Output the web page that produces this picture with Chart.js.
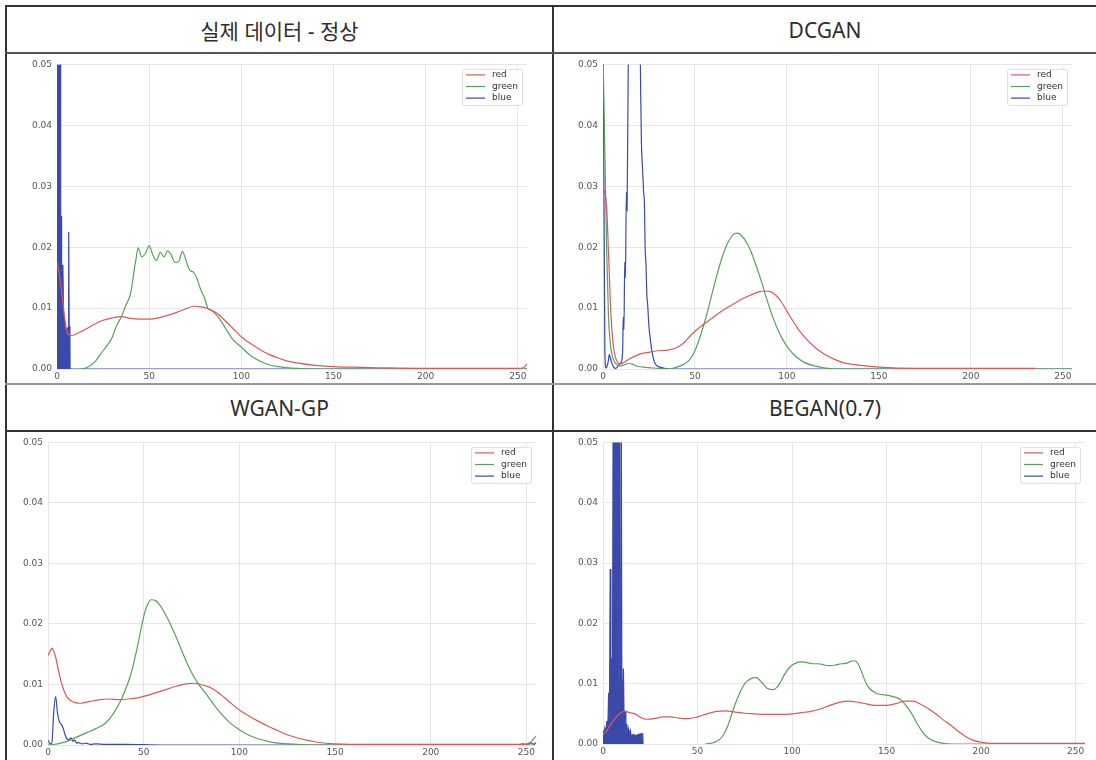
<!DOCTYPE html>
<html>
<head>
<meta charset="utf-8">
<script src="https://cdn.jsdelivr.net/npm/chart.js@4.4.1/dist/chart.umd.min.js"></script>
<style>
  html, body { margin: 0; padding: 0; background: #fff; }
  body { width: 1096px; height: 760px; overflow: hidden; position: relative;
         font-family: "Noto Sans", "Noto Sans CJK KR", sans-serif; }
  .rule { position: absolute; }
  .title { position: absolute; display: flex; align-items: center; justify-content: center;
           font-size: 21px; color: #2e2e2e; }
  canvas { position: absolute; }
</style>
</head>
<body>
<!-- table rules -->
<div class="rule" style="left:5px;top:5px;width:1091px;height:2px;background:#333"></div>
<div class="rule" style="left:5px;top:5px;width:2px;height:755px;background:#333"></div>
<div class="rule" style="left:552px;top:5px;width:2px;height:755px;background:#333"></div>
<div class="rule" style="left:5px;top:52px;width:1091px;height:2px;background:#555"></div>
<div class="rule" style="left:5px;top:383px;width:1091px;height:2px;background:#999"></div>
<div class="rule" style="left:5px;top:430px;width:1091px;height:2px;background:#333"></div>

<div class="title" style="left:7px;top:7px;width:545px;height:45px">실제 데이터 - 정상</div>
<div class="title" style="left:554px;top:7px;width:542px;height:45px">DCGAN</div>
<div class="title" style="left:7px;top:386px;width:545px;height:44px">WGAN-GP</div>
<div class="title" style="left:554px;top:386px;width:542px;height:44px">BEGAN(0.7)</div>

<canvas id="cReal"  width="544" height="329" style="left:8px;top:54px"></canvas>
<canvas id="cDcgan" width="541" height="329" style="left:555px;top:54px"></canvas>
<canvas id="cWgan"  width="544" height="328" style="left:8px;top:432px"></canvas>
<canvas id="cBegan" width="541" height="328" style="left:555px;top:432px"></canvas>

<script>
// Pixel-intensity histograms (normalised), pairs of [intensity, density]

// 실제 데이터 - 정상
const realRed = [[0,0.0175],[1,0.016],[2,0.014],[3,0.0115],[4,0.0088],[5,0.0068],[6,0.0057],[8,0.0055],[12,0.006],[16,0.0066],[20,0.0073],[25,0.008],[30,0.0084],[35,0.0086],[40,0.0083],[45,0.0082],[50,0.0082],[55,0.0084],[60,0.0088],[65,0.0093],[70,0.0099],[74,0.0103],[78,0.0102],[82,0.0099],[86,0.0093],[90,0.0083],[94,0.0071],[98,0.0059],[100,0.0053],[102,0.0048],[106,0.004],[110,0.0032],[115,0.0024],[120,0.0018],[125,0.0013],[130,0.001],[140,0.0006],[150,0.0004],[160,0.0003],[175,0.0002],[200,0.0001],[250,0.0001],[253,0.0002],[255,0.0008]];
const realGreen = [[13,0],[16,0.0002],[20,0.001],[24,0.0026],[28,0.0042],[30,0.0052],[32,0.0069],[35,0.0086],[37,0.0102],[40,0.0125],[42,0.0165],[43,0.0183],[44,0.0199],[46,0.0184],[48,0.019],[50,0.0202],[52,0.0187],[54,0.0178],[56,0.0192],[58,0.0184],[60,0.0194],[62,0.0187],[64,0.0175],[66,0.0176],[68,0.0193],[70,0.0178],[72,0.0162],[74,0.0159],[76,0.0148],[78,0.013],[80,0.0117],[82,0.0099],[84,0.0096],[86,0.009],[88,0.0083],[90,0.0074],[92,0.0064],[95,0.005],[100,0.0036],[105,0.0022],[110,0.0013],[115,0.0007],[120,0.0004],[130,0.0001],[140,0],[255,0]];
const realBlue = [[0,0.09],[1,0.09],[1.9,0.09],[2,0.025],[2.4,0.025],[2.5,0.017],[3.2,0.017],[3.5,0.0095],[4,0.008],[4.5,0.0065],[5,0.006],[5.5,0.0065],[6,0.0068],[6.3,0.007],[6.4,0.0225],[6.6,0.007],[7,0.006],[7.1,0],[255,0]];

// DCGAN
const dcganRed = [[0,0.0295],[1,0.029],[2,0.0265],[3,0.019],[4,0.011],[5,0.0058],[6,0.003],[7,0.0017],[8,0.0011],[9,0.0008],[11,0.001],[14,0.0016],[18,0.0022],[22,0.0026],[26,0.0028],[30,0.003],[35,0.0031],[40,0.0035],[44,0.0043],[47,0.0053],[50,0.0062],[55,0.0074],[60,0.0085],[65,0.0096],[70,0.0105],[75,0.0114],[80,0.0121],[85,0.0127],[88,0.0128],[91,0.0127],[94,0.0121],[97,0.011],[100,0.0095],[103,0.008],[106,0.0066],[110,0.0051],[115,0.0036],[120,0.0025],[125,0.0017],[130,0.0011],[140,0.0006],[150,0.0003],[170,0.0001],[200,0.0001],[235,0.0001]];
const dcganGreen = [[0,0.052],[1,0.036],[2,0.0194],[3,0.0085],[4,0.0042],[5,0.0022],[6,0.0013],[7.5,0.0007],[9,0.0005],[11,0.0006],[13.8,0.0009],[16,0.0008],[18,0.0005],[22,0.0003],[26,0.0002],[30,0.0001],[36,0],[40,0.0003],[44,0.0008],[47,0.0015],[50,0.003],[53,0.0055],[56,0.0085],[59,0.012],[62,0.0155],[65,0.0185],[68,0.0208],[71,0.0221],[73,0.0223],[75,0.022],[78,0.0208],[80,0.0196],[83,0.0172],[86,0.0145],[89,0.0115],[92,0.0088],[95,0.0065],[98,0.0047],[101,0.0033],[105,0.002],[110,0.001],[115,0.0005],[120,0.0002],[130,0],[255,0]];
const dcganBlue = [[0,0.06],[0.5,0.03],[1,0.004],[1.5,0.0002],[2,0.0003],[3,0.0015],[3.4,0.0024],[4,0.0018],[5,0.0008],[6,0.0002],[7,0.0001],[8,0.0004],[9.3,0.0009],[10,0.0012],[10.7,0.0031],[11,0.0085],[11.4,0.0065],[11.8,0.0175],[12.2,0.015],[12.7,0.029],[13.1,0.026],[13.8,0.052],[20,0.06],[20.5,0.045],[20.9,0.037],[21.2,0.0347],[21.8,0.031],[22.2,0.0285],[22.5,0.0276],[22.9,0.02],[23.4,0.017],[23.8,0.0124],[24.3,0.0105],[25,0.0069],[25.6,0.0052],[26.5,0.0031],[28.3,0.0009],[31,0.0003],[36,0],[255,0]];

// WGAN-GP
const wganRed = [[0,0.0148],[1,0.0154],[2,0.016],[3,0.0155],[4,0.0145],[5,0.013],[6,0.0116],[7,0.0103],[8,0.0093],[9,0.0085],[10,0.0079],[12,0.0073],[14,0.007],[17,0.0069],[22,0.0072],[27,0.0075],[32,0.0076],[37,0.0075],[42,0.0076],[47,0.0078],[52,0.0082],[57,0.0087],[62,0.0092],[67,0.0097],[72,0.0101],[76,0.0102],[80,0.01],[84,0.0096],[88,0.0089],[92,0.0079],[96,0.0068],[100,0.0058],[105,0.0048],[110,0.0039],[115,0.0031],[120,0.0024],[125,0.0017],[130,0.0012],[135,0.0008],[140,0.0005],[150,0.0002],[170,0.0001],[250,0.0001],[253,0.0002],[255,0.0003]];
const wganGreen = [[0,0],[5,0.0002],[10,0.0006],[15,0.0013],[20,0.002],[25,0.0027],[30,0.0036],[34,0.0051],[38,0.0073],[40,0.0088],[43,0.0114],[46,0.0152],[48,0.0182],[50,0.0212],[52,0.0232],[54,0.024],[56,0.0239],[58,0.0233],[61,0.0218],[64,0.0199],[67,0.0178],[70,0.0155],[73,0.0133],[76,0.0114],[79,0.0099],[82,0.0087],[85,0.0074],[88,0.0061],[91,0.005],[95,0.0037],[100,0.0025],[105,0.0016],[110,0.001],[115,0.0006],[120,0.0003],[130,0.0001],[140,0],[250,0],[252,0.0004],[255,0.0015]];
const wganBlue = [[0,0.0008],[1,0.0002],[2,0.0003],[3,0.0055],[4,0.008],[5,0.0052],[6,0.0038],[7,0.0034],[8,0.0027],[9,0.0016],[10,0.001],[11,0.0009],[12,0.0012],[13,0.0006],[14,0.0008],[15,0.0003],[16,0.0004],[18,0.0002],[20,0.0003],[22,0.0001],[25,0.0002],[30,0.0001],[40,0.0001],[60,0],[246,0],[248,0.0002],[250,0.0001],[252,0.0004],[254,0.0001],[255,0.0004]];

// BEGAN(0.7)
const beganRed = [[0,0.0015],[2,0.0022],[4,0.0032],[6,0.0041],[8,0.0048],[10,0.0053],[12,0.0054],[14,0.0052],[17,0.005],[20,0.0044],[23,0.0041],[27,0.0042],[32,0.0045],[36,0.0045],[40,0.0043],[45,0.0042],[50,0.0045],[55,0.005],[60,0.0054],[65,0.0055],[70,0.0053],[75,0.0051],[80,0.005],[85,0.0049],[90,0.0049],[95,0.0049],[100,0.005],[105,0.0052],[110,0.0054],[115,0.0058],[120,0.0064],[125,0.0069],[130,0.0071],[135,0.0069],[140,0.0066],[145,0.0064],[150,0.0064],[155,0.0067],[160,0.0071],[164,0.0071],[168,0.0066],[172,0.0059],[176,0.005],[180,0.004],[184,0.0031],[188,0.0021],[192,0.0012],[196,0.0006],[200,0.0003],[205,0.0001],[255,0.0001]];
const beganGreen = [[54,0],[57,0.0001],[60,0.0004],[63,0.0012],[66,0.003],[69,0.0058],[72,0.0082],[75,0.01],[78,0.0108],[81,0.011],[84,0.0102],[87,0.0092],[90,0.009],[93,0.0098],[96,0.0115],[99,0.0128],[102,0.0134],[105,0.0136],[108,0.0135],[111,0.0133],[114,0.0133],[117,0.0131],[120,0.013],[123,0.0131],[126,0.0133],[129,0.0134],[131,0.0137],[133,0.0138],[135,0.0133],[137,0.0118],[139,0.0102],[141,0.0092],[144,0.0085],[147,0.0082],[150,0.0081],[153,0.0079],[156,0.0076],[158,0.0072],[160,0.0065],[163,0.0052],[166,0.0035],[169,0.002],[172,0.001],[176,0.0004],[180,0.0001],[185,0],[255,0]];
const beganBlue = [[0,0.0022],[0.5,0.0015],[1,0.0026],[1.5,0.0018],[2,0.0038],[2.5,0.002],[3,0.0085],[3.4,0.002],[3.8,0.029],[4.2,0.003],[4.6,0.0142],[5,0.003],[5.5,0.08],[6,0.002],[6.5,0.08],[7,0.002],[7.5,0.08],[8,0.002],[8.5,0.08],[9,0.002],[9.5,0.08],[10,0.003],[10.8,0.0125],[11.2,0.003],[11.7,0.0055],[12.1,0.002],[12.6,0.0033],[13,0.0015],[13.5,0.0025],[14,0.0015],[14.5,0.0022],[15,0.0012],[16,0.0016],[17,0.0014],[18,0.0015],[19,0.0016],[20,0.0017],[21,0.0017],[21.2,0]];

const channelLabels = ['red', 'green', 'blue'];
const xTicks = [0, 50, 100, 150, 200, 250];
const yTicks = [0, 0.01, 0.02, 0.03, 0.04, 0.05];

const RED = '#dc5858';
const GREEN = '#5c9e5c';
const BLUE = '#3a49aa';
const TICK_FONT = { family: '"DejaVu Sans", sans-serif', size: 9 };

// Boxed legend drawn inside the top-right corner of the plot area
const insetLegend = {
  id: 'insetLegend',
  afterDraw(chart) {
    const ctx = chart.ctx, a = chart.chartArea;
    const items = chart.data.datasets;
    ctx.save();
    ctx.font = '9px "DejaVu Sans", sans-serif';
    const textW = Math.max(...items.map(d => ctx.measureText(d.label).width));
    const padL = 4, lineLen = 19, gap = 7, padR = 4, rowH = 11.6;
    const w = padL + lineLen + gap + textW + padR;
    const h = 36;
    const x = a.right - 5 - w, y = a.top + 4.5;
    ctx.beginPath();
    ctx.roundRect(x + 0.5, y + 0.5, w, h, 2);
    ctx.fillStyle = 'rgba(255,255,255,0.85)';
    ctx.fill();
    ctx.strokeStyle = '#dddddd';
    ctx.lineWidth = 1;
    ctx.stroke();
    ctx.textBaseline = 'middle';
    items.forEach((d, i) => {
      const cy = y + 6 + i * rowH;
      ctx.beginPath();
      ctx.moveTo(x + padL, cy);
      ctx.lineTo(x + padL + lineLen, cy);
      ctx.strokeStyle = d.borderColor;
      ctx.lineWidth = 1.2;
      ctx.stroke();
      ctx.fillStyle = '#333';
      ctx.fillText(d.label, x + padL + lineLen + gap, cy);
    });
    ctx.restore();
  }
};

function toPoints(pairs) {
  return pairs.map(p => ({ x: p[0], y: p[1] }));
}

function lineSet(label, pairs, color, filled) {
  return {
    label,
    data: toPoints(pairs),
    borderColor: color,
    backgroundColor: filled ? color : 'transparent',
    fill: filled ? 'origin' : false,
    borderWidth: 1.2,
    pointRadius: 0,
    tension: 0,
    cubicInterpolationMode: filled ? 'default' : 'monotone'
  };
}

function histogramChart(id, red, green, blue, blueFilled, geo) {
  new Chart(document.getElementById(id), {
    type: 'line',
    data: {
      datasets: [
        lineSet(channelLabels[0], red, RED, false),
        lineSet(channelLabels[1], green, GREEN, false),
        lineSet(channelLabels[2], blue, BLUE, blueFilled)
      ]
    },
    options: {
      responsive: false,
      animation: false,
      devicePixelRatio: 1,
      layout: { padding: { left: 0, top: geo.top, right: geo.right, bottom: 0 } },
      plugins: { legend: { display: false }, tooltip: { enabled: false } },
      scales: {
        x: {
          type: 'linear',
          min: 0, max: 255,
          afterFit: s => { s.height = geo.xh; },
          afterBuildTicks: s => { s.ticks = xTicks.map(v => ({ value: v })); },
          ticks: { includeBounds: false, padding: 2, color: '#555', font: TICK_FONT, maxRotation: 0,
                   callback: v => String(v) },
          grid: { color: '#e6e6e6', drawTicks: false },
          border: { display: false }
        },
        y: {
          type: 'linear',
          min: 0, max: 0.05,
          afterFit: s => { s.width = geo.yw; },
          afterBuildTicks: s => { s.ticks = yTicks.map(v => ({ value: v })); },
          ticks: { padding: 5, color: '#555', font: TICK_FONT, callback: v => v.toFixed(2) },
          grid: { color: '#e6e6e6', drawTicks: false },
          border: { display: false }
        }
      }
    },
    plugins: [insetLegend]
  });
}

histogramChart('cReal',  realRed,  realGreen,  realBlue,  true,  { top: 9, right: 25, xh: 14, yw: 49 });
histogramChart('cDcgan', dcganRed, dcganGreen, dcganBlue, false, { top: 9, right: 24, xh: 14, yw: 48 });
histogramChart('cWgan',  wganRed,  wganGreen,  wganBlue,  false, { top: 7, right: 16, xh: 15, yw: 40 });
histogramChart('cBegan', beganRed, beganGreen, beganBlue, true,  { top: 4, right: 11, xh: 16, yw: 48 });
</script>
</body>
</html>
